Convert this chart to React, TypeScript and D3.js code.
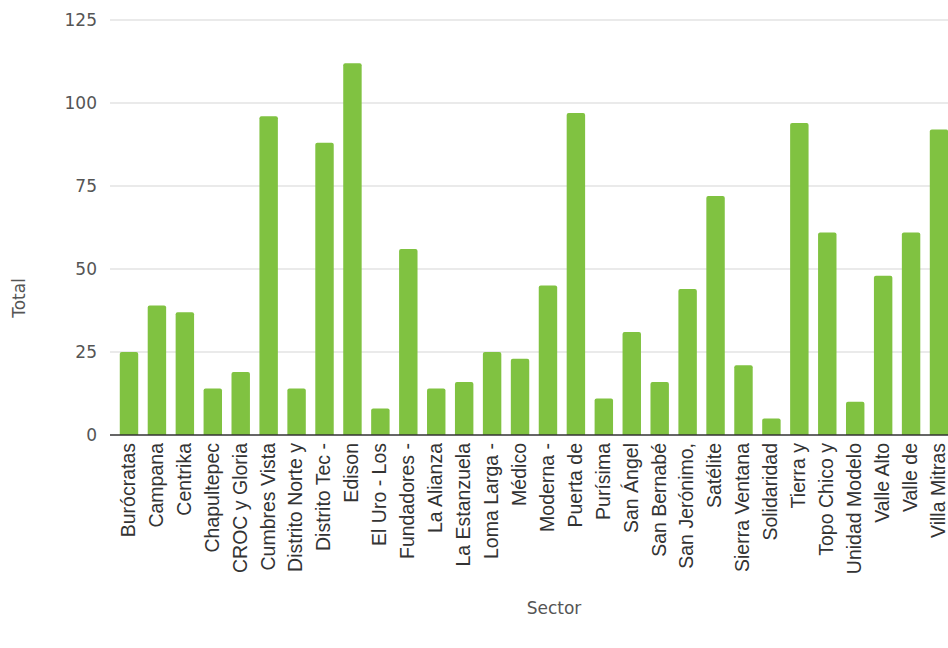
import React from "react";
import * as d3 from "d3";

const categories = [
  "Burócratas", "Campana", "Centrika", "Chapultepec", "CROC y Gloria", "Cumbres Vista",
  "Distrito Norte y", "Distrito Tec -", "Edison", "El Uro - Los", "Fundadores -", "La Alianza",
  "La Estanzuela", "Loma Larga -", "Médico", "Moderna -", "Puerta de", "Purísima",
  "San Ángel", "San Bernabé", "San Jerónimo,", "Satélite", "Sierra Ventana", "Solidaridad",
  "Tierra y", "Topo Chico y", "Unidad Modelo", "Valle Alto", "Valle de", "Villa Mitras",
];
const totals = [
  25, 39, 37, 14, 19, 96, 14, 88, 112, 8, 56, 14, 16, 25, 23, 45, 97, 11,
  31, 16, 44, 72, 21, 5, 94, 61, 10, 48, 61, 92,
];
const yTicks = [0, 25, 50, 75, 100, 125];

const W = 948;
const H = 648;
const titleFont = "'DejaVu Sans', Roboto, sans-serif";

export default function App() {
  const x = d3
    .scaleBand<string>()
    .domain(categories)
    .range([110, 958])
    .paddingInner(0.34)
    .paddingOuter(0.35);
  const y = d3.scaleLinear().domain([0, 125]).range([435, 20]);
  const bw = x.bandwidth();
  return (
    <svg width={W} height={H} style={{ position: "absolute", left: 0, top: 0, background: "#fff" }}>
      {yTicks.map((t) => (
        <g key={t}>
          {t !== 0 && (
            <line x1={110} x2={W} y1={y(t)} y2={y(t)} stroke="#d6d6d6" strokeWidth={1.2} />
          )}
          <text x={97} y={y(t)} dy="0.36em" textAnchor="end" fontFamily={titleFont} fontSize={17} fill="#555">
            {t}
          </text>
        </g>
      ))}
      {categories.map((c, i) => {
        const x0 = x(c)!;
        const yt = y(totals[i]);
        const h = y(0) - yt;
        const r = 2;
        const d = `M${x0},${y(0)} L${x0},${yt + r} Q${x0},${yt} ${x0 + r},${yt} L${x0 + bw - r},${yt} Q${x0 + bw},${yt} ${x0 + bw},${yt + r} L${x0 + bw},${y(0)} Z`;
        return <path key={c} d={h > 0 ? d : ""} fill="#80c241" />;
      })}
      <line x1={110} x2={W} y1={y(0)} y2={y(0)} stroke="#333" strokeWidth={1.5} />
      {categories.map((c) => {
        const cx = x(c)! + bw / 2;
        return (
          <text
            key={c}
            transform={`translate(${cx},443) rotate(-90)`}
            dy="0.3em"
            textAnchor="end"
            fontFamily="'Liberation Sans', Arial, sans-serif"
            fontSize={19.5}
            fill="#333"
          >
            {c}
          </text>
        );
      })}
      <text transform="translate(19,298) rotate(-90)" dy="0.36em" textAnchor="middle" fontFamily={titleFont} fontSize={17} fill="#555">
        Total
      </text>
      <text x={554} y={608} dy="0.36em" textAnchor="middle" fontFamily={titleFont} fontSize={17} fill="#555">
        Sector
      </text>
    </svg>
  );
}
